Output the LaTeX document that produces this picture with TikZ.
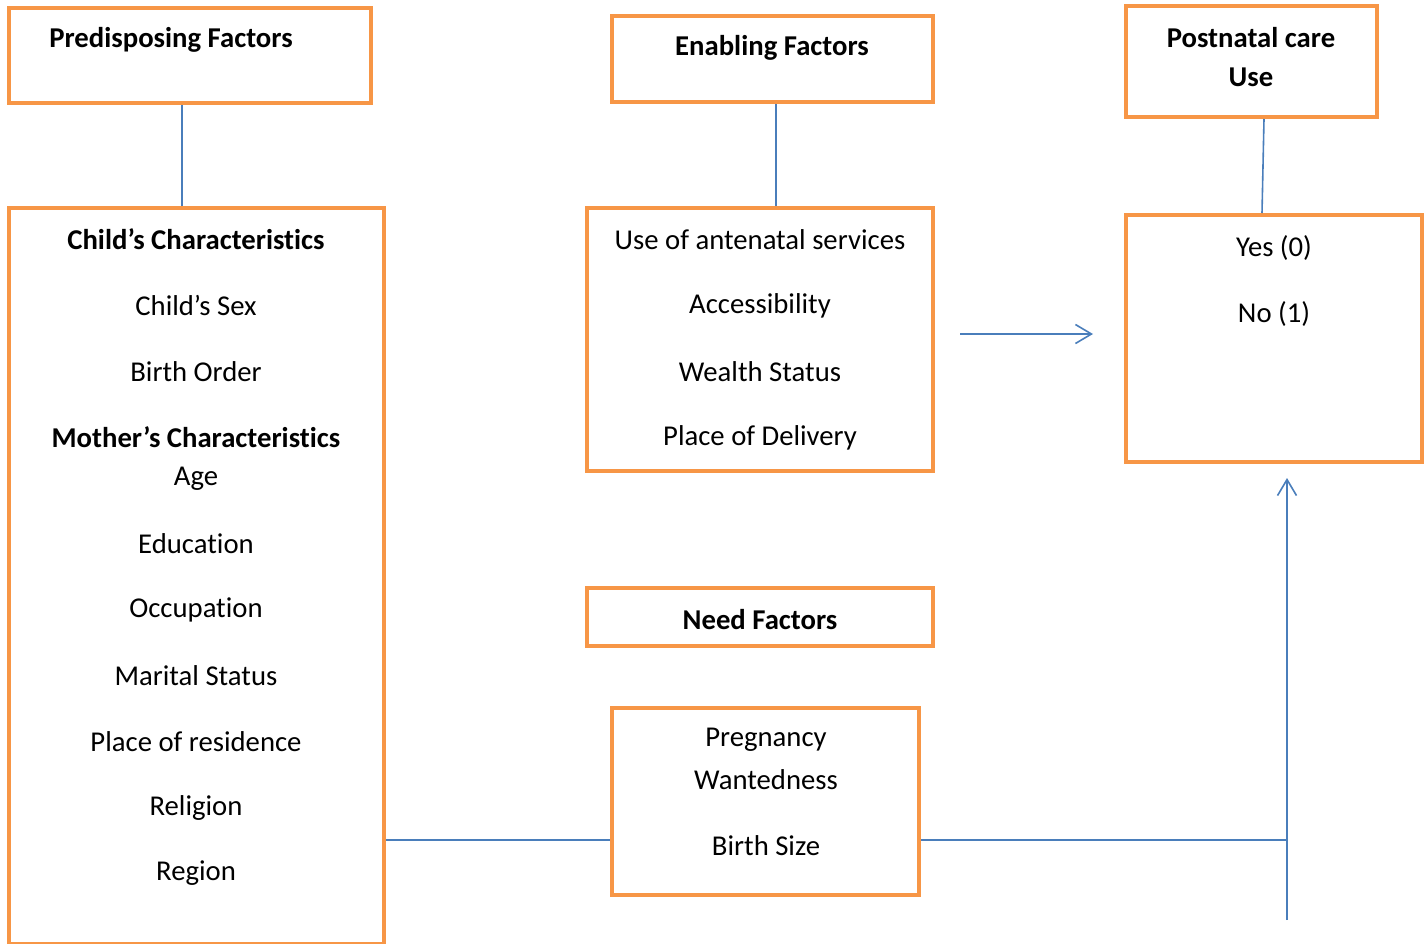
\documentclass[tikz,border=0pt]{standalone}
\usepackage{fontspec}
\setmainfont{Carlito}[Ligatures=NoCommon]
\usetikzlibrary{arrows.meta}
\definecolor{boxorange}{HTML}{F79646}
\definecolor{linkblue}{HTML}{4A7EBB}
\begin{document}
\begin{tikzpicture}[x=1pt,y=-1pt,
  box/.style={draw=boxorange,line width=4pt,rectangle,inner sep=0pt},
  lbl/.style={inner sep=0pt,yshift=-1.5pt,font=\fontsize{28.7}{34}\selectfont,align=center},
  hd/.style={lbl,font=\fontsize{28.7}{34}\selectfont\bfseries},
  link/.style={draw=linkblue,line width=1.6pt},
  barb/.style={-{Straight Barb[length=16pt,width=19pt,line width=1.6pt]}}]
\useasboundingbox (0,0) rectangle (1425,943);

% boxes (centre, width, height)
\node[box,minimum width=362pt,minimum height=95pt] (pre) at (190,55.5) {};
\node[box,minimum width=321pt,minimum height=86pt] (ena) at (772.5,59) {};
\node[box,minimum width=251pt,minimum height=111pt] (pnc) at (1251.5,61.5) {};
\node[box,minimum width=375pt,minimum height=736pt] (chr) at (196.5,576) {};
\node[box,minimum width=346pt,minimum height=263pt] (svc) at (760,339.5) {};
\node[box,minimum width=296pt,minimum height=247pt] (out) at (1274,338.5) {};
\node[box,minimum width=346pt,minimum height=58pt] (need) at (760,617) {};
\node[box,minimum width=307pt,minimum height=187pt] (preg) at (765.5,801.5) {};

% headings
\node[hd] (tpre) at (171,38) {Predisposing Factors};
\node[hd] (tena) at (772,46) {Enabling Factors};
\node[hd] (tpnc1) at (1251,36) {Postnatal care};
\node[hd] (tpnc2) at (1251,76) {Use};
\node[hd] (tneed) at (760,618) {Need Factors};

% predisposing variables
\node[hd] (c1) at (196,238) {Child’s Characteristics};
\node[lbl] (c2) at (196,304) {Child’s Sex};
\node[lbl] (c3) at (196,370) {Birth Order};
\node[hd] (c4) at (196,436) {Mother’s Characteristics};
\node[lbl] (c5) at (196,477) {Age};
\node[lbl] (c6) at (196,542) {Education};
\node[lbl] (c7) at (196,608) {Occupation};
\node[lbl] (c8) at (196,674) {Marital Status};
\node[lbl] (c9) at (196,740) {Place of residence};
\node[lbl] (c10) at (196,806) {Religion};
\node[lbl] (c11) at (196,872) {Region};

% enabling variables
\node[lbl] (e1) at (760,238) {Use of antenatal services};
\node[lbl] (e2) at (760,304) {Accessibility};
\node[lbl] (e3) at (760,370) {Wealth Status};
\node[lbl] (e4) at (760,436) {Place of Delivery};

% outcome
\node[lbl] (o1) at (1274,246) {Yes (0)};
\node[lbl] (o2) at (1274,312) {No (1)};

% need variables
\node[lbl] (n1) at (766,738) {Pregnancy};
\node[lbl] (n2) at (766,778) {Wantedness};
\node[lbl] (n3) at (766,844) {Birth Size};

% connectors
\coordinate (xp) at (182,0);
\coordinate (xe) at (776,0);
\coordinate (yj) at (0,840);
\coordinate (a1) at (960,334);
\coordinate (a2) at (1093,334);
\coordinate (v1) at (1287,920);
\coordinate (v2) at (1287,478);
\coordinate (vj) at (1287,840);
\path[link] (pre.south -| xp) -- (chr.north -| xp);
\path[link] (ena.south -| xe) -- (svc.north -| xe);
\path[link] (pnc.south -| 1264,0) -- (out.north -| 1262,0);
\path[link,barb] (a1) -- (a2);
\path[link] (chr.east |- yj) -- (preg.west |- yj);
\path[link] (preg.east |- yj) -- (vj);
\path[link,barb] (v1) -- (v2);
\end{tikzpicture}
\end{document}
